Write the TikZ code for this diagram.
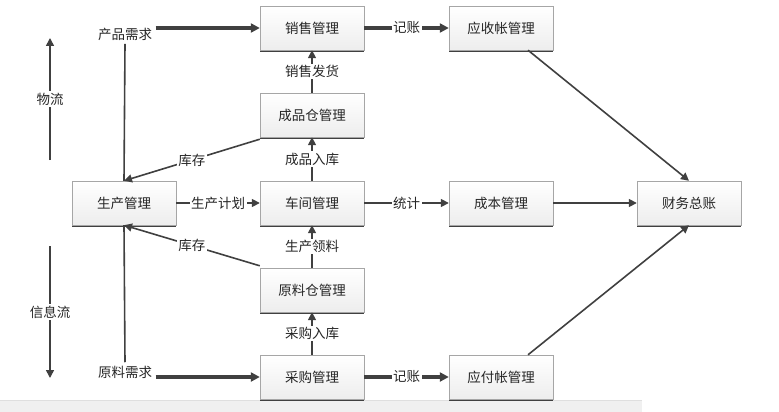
\documentclass[tikz,border=0pt]{standalone}
\usepackage{fontspec}
\setmainfont{Noto Sans CJK SC}
\usetikzlibrary{arrows.meta,shadows}
\definecolor{ln}{HTML}{404040}

\begin{document}
\begin{tikzpicture}[x=1pt,y=-1pt,
  every node/.style={font=\fontsize{13.5}{15}\selectfont, text=black!85},
  box/.style={draw=gray!70, rectangle, minimum width=104pt, minimum height=44pt,
    top color=white, bottom color=gray!14,
    drop shadow={shadow xshift=0pt, shadow yshift=-1.6pt, fill=black!75, opacity=1}},
  tag/.style={fill=white, inner sep=1.5pt},
  flow/.style={draw=ln, line width=1.6pt, -{Triangle[length=8pt,width=8pt]}},
  bold/.style={draw=ln, line width=3.2pt, -{Triangle[length=9pt,width=9pt]}},
  plain/.style={draw=ln, line width=1.6pt}]
\useasboundingbox (0,0) rectangle (779,412);
\fill[gray!12] (0,400) rectangle (642,412);
\draw[gray!25] (0,400) -- (642,400);

% boxes
\node[box] (sale)   at (312,28)  {销售管理};
\node[box] (fstore) at (312,115) {成品仓管理};
\node[box] (shop)   at (312,203) {车间管理};
\node[box] (mstore) at (312,290) {原料仓管理};
\node[box] (buy)    at (312,377) {采购管理};
\node[box] (prod)   at (124,203) {生产管理};
\node[box] (recv)   at (501,28)  {应收帐管理};
\node[box] (cost)   at (501,203) {成本管理};
\node[box] (pay)    at (501,377) {应付帐管理};
\node[box] (ledger) at (689,203) {财务总账};

% demand labels
\node (pneed) at (125,34)  {产品需求};
\node (mneed) at (125,372) {原料需求};

% flow direction hints
\coordinate (wl1) at (50,160);
\coordinate (wl2) at (50,38);
\coordinate (xx1) at (50,246);
\coordinate (xx2) at (50,378);
\path[flow] (wl1) -- node[tag] {物流} (wl2);
\path[flow] (xx1) -- node[tag] {信息流} (xx2);

\path[plain] (pneed.south) -- (prod.north);
\path[plain] (prod.south) -- (mneed.north);
\path[bold] (pneed.east |- sale.west) -- (sale.west);
\path[bold] (mneed.east |- buy.west) -- (buy.west);

\path[flow] ([yshift=-2pt]fstore.south west) -- node[tag] {库存} (prod.north);
\path[flow] ([yshift=2pt]mstore.north west) -- node[tag] {库存} (prod.south);
\path[flow] (prod) -- node[tag] {生产计划} (shop);

\path[flow] (shop) -- node[tag] {成品入库} (fstore);
\path[flow] (fstore) -- node[tag] {销售发货} (sale);
\path[flow] (mstore) -- node[tag] {生产领料} (shop);
\path[flow] (buy) -- node[tag] {采购入库} (mstore);

\path[bold] (sale) -- node[tag] {记账} (recv);
\path[flow] (shop) -- node[tag] {统计} (cost);
\path[bold] (buy) -- node[tag] {记账} (pay);

\path[flow] ([xshift=27pt]recv.south) -- (ledger.north);
\path[flow] (cost) -- (ledger);
\path[flow] ([xshift=27pt]pay.north) -- (ledger.south);
\end{tikzpicture}
\end{document}
